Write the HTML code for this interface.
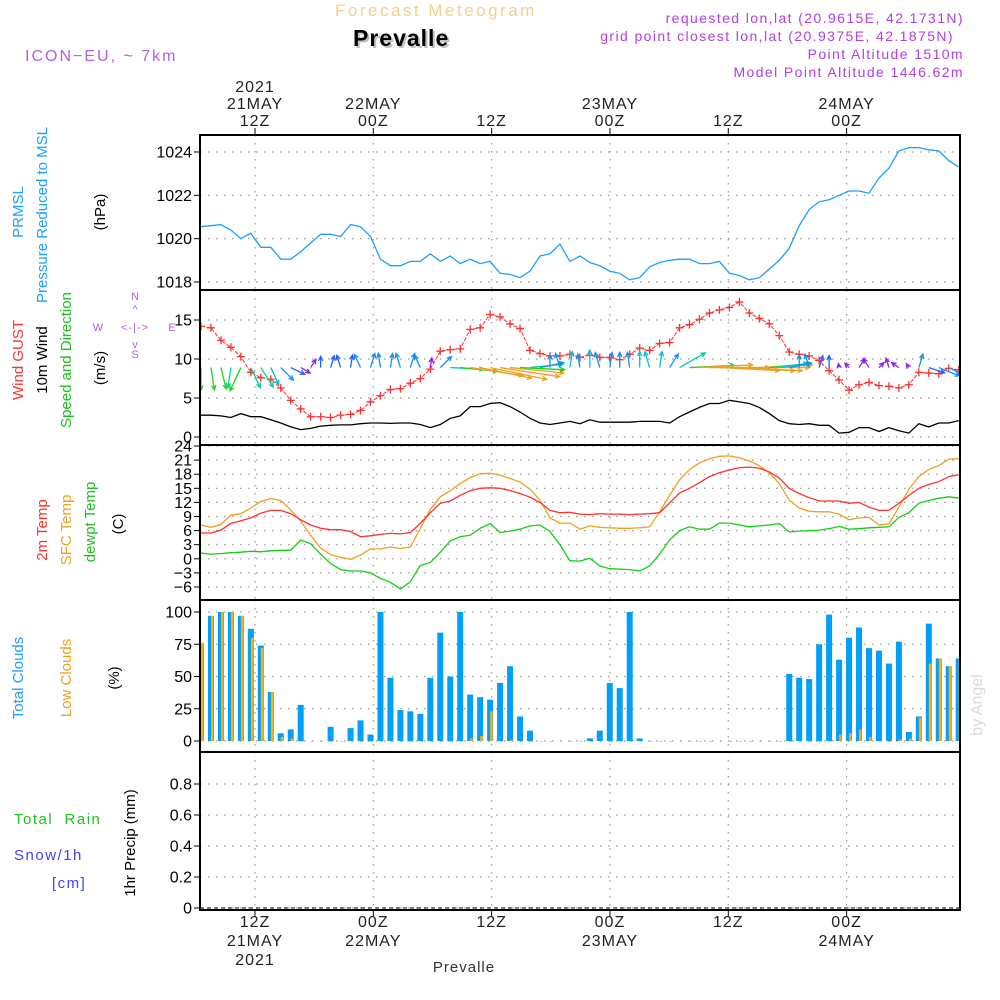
<!DOCTYPE html>
<html><head><meta charset="utf-8">
<style>
html,body{margin:0;padding:0;background:#fff;}
svg{display:block;}
text{font-family:"Liberation Sans",sans-serif;}
</style></head>
<body>
<svg id="chart" width="1000" height="1000" viewBox="0 0 1000 1000" xmlns="http://www.w3.org/2000/svg">
<defs><clipPath id="plotclip"><rect x="201" y="130" width="758" height="790"/></clipPath></defs>
<g id="header">
<text x="335" y="16" font-size="17" fill="#f5d08a" letter-spacing="2.5">Forecast Meteogram</text>
<text x="355" y="48" font-size="23" font-weight="bold" font-family="Liberation Serif" fill="#b8c8b8" letter-spacing="1">Prevalle</text>
<text x="353" y="46" font-size="23" font-weight="bold" font-family="Liberation Serif" fill="#000" letter-spacing="1">Prevalle</text>
<text x="25" y="61" font-size="16" fill="#b060e0" letter-spacing="2">ICON−EU, ~ 7km</text>
<g font-size="14" fill="#b040e0" text-anchor="end" letter-spacing="1.4">
<text x="964" y="23">requested lon,lat (20.9615E, 42.1731N)</text>
<text x="954" y="41">grid point closest lon,lat (20.9375E, 42.1875N)</text>
<text x="964" y="59">Point Altitude 1510m</text>
<text x="964" y="77">Model Point Altitude 1446.62m</text>
</g>
</g>
<g id="labels" font-size="15">
<text transform="translate(23,212) rotate(-90)" text-anchor="middle" fill="#1aa0ff">PRMSL</text>
<text transform="translate(47,215) rotate(-90)" text-anchor="middle" fill="#1aa0ff">Pressure Reduced to MSL</text>
<text transform="translate(105,212) rotate(-90)" text-anchor="middle" fill="#000">(hPa)</text>
<text transform="translate(23,360) rotate(-90)" text-anchor="middle" fill="#ff3030">Wind GUST</text>
<text transform="translate(47,360) rotate(-90)" text-anchor="middle" fill="#000">10m Wind</text>
<text transform="translate(71,360) rotate(-90)" text-anchor="middle" fill="#20c020">Speed and Direction</text>
<text transform="translate(105,368) rotate(-90)" text-anchor="middle" fill="#000">(m/s)</text>
<g fill="#b060e0" font-size="11">
<text x="135" y="300" text-anchor="middle">N</text>
<text x="135" y="358" text-anchor="middle">S</text>
<text x="98" y="331" text-anchor="middle">W</text>
<text x="172" y="331" text-anchor="middle">E</text>
<text x="135" y="331" text-anchor="middle" letter-spacing="1">&lt;-|-&gt;</text>
<text x="135" y="313" text-anchor="middle">^</text>
<text x="135" y="348" text-anchor="middle">v</text>
</g>
<text transform="translate(47,530) rotate(-90)" text-anchor="middle" fill="#ff3030">2m Temp</text>
<text transform="translate(71,530) rotate(-90)" text-anchor="middle" fill="#f0a020">SFC Temp</text>
<text transform="translate(95,522) rotate(-90)" text-anchor="middle" fill="#20c020">dewpt Temp</text>
<text transform="translate(123,524) rotate(-90)" text-anchor="middle" fill="#000">(C)</text>
<text transform="translate(23,678) rotate(-90)" text-anchor="middle" fill="#1aa0ff">Total Clouds</text>
<text transform="translate(71,678) rotate(-90)" text-anchor="middle" fill="#f0a020">Low Clouds</text>
<text transform="translate(119,678) rotate(-90)" text-anchor="middle" fill="#000">(%)</text>
<text x="14" y="824" fill="#20c020" letter-spacing="1.5">Total&#160;&#160;Rain</text>
<text x="14" y="860" fill="#4040ff" letter-spacing="1.5">Snow/1h</text>
<text x="52" y="888" fill="#4040ff" letter-spacing="1.5">[cm]</text>
<text transform="translate(135,843) rotate(-90)" text-anchor="middle" fill="#000">1hr Precip (mm)</text>
<text transform="translate(982,705) rotate(-90)" text-anchor="middle" fill="#d8dcd8" font-family="Liberation Serif" font-size="16">by Angel</text>
<text x="464" y="972" text-anchor="middle" font-family="Liberation Serif" font-size="15" fill="#333" letter-spacing="1">Prevalle</text>
</g>
<g id="grid"></g>
<g id="marks" clip-path="url(#plotclip)"></g>
<g id="frames"></g>
<g id="axes"></g>
</svg>
<script>
const pressure=[1020.55,1020.6,1020.65,1020.4,1020.0,1020.25,1019.6,1019.6,1019.05,1019.05,1019.4,1019.8,1020.2,1020.2,1020.1,1020.65,1020.55,1020.1,1019.05,1018.75,1018.75,1018.95,1018.95,1019.3,1018.95,1019.2,1018.85,1019.05,1018.85,1018.95,1018.4,1018.35,1018.2,1018.5,1019.2,1019.3,1019.75,1018.95,1019.2,1018.9,1018.75,1018.5,1018.4,1018.1,1018.2,1018.7,1018.9,1019.0,1019.05,1019.05,1018.85,1018.85,1018.95,1018.4,1018.3,1018.1,1018.2,1018.6,1019.0,1019.55,1020.6,1021.35,1021.7,1021.8,1022.0,1022.2,1022.2,1022.1,1022.8,1023.25,1024.05,1024.2,1024.2,1024.1,1024.05,1023.6,1023.3];
const windSpeed=[2.8,2.8,2.7,2.5,3.0,2.6,2.6,2.2,1.8,1.3,0.95,1.1,1.4,1.5,1.55,1.55,1.7,1.8,1.8,1.75,1.8,1.8,1.6,1.2,1.6,2.4,2.7,3.9,3.9,4.3,4.4,3.9,3.2,2.4,1.8,1.6,1.8,2.0,1.7,2.2,1.9,1.9,1.9,1.9,2.0,2.0,2.0,1.8,2.6,3.2,3.8,4.3,4.3,4.7,4.5,4.3,3.8,3.0,2.1,1.7,1.6,1.7,1.5,1.5,0.5,0.6,1.2,1.2,0.7,1.2,0.8,0.5,1.7,1.3,1.8,1.8,2.1];
const windDir=[180,175,172,185,195,165,160,165,150,130,135,20,0,10,350,5,345,10,355,5,350,10,345,5,30,95,100,105,110,110,105,100,95,80,70,0,350,5,355,0,350,5,0,355,0,350,5,20,45,85,85,90,95,95,95,90,85,80,75,70,0,350,10,0,355,330,20,340,30,350,320,340,10,120,125,130,125];
const gust=[14.2,14.0,12.4,11.5,10.3,8.3,7.6,7.4,6.3,4.7,3.6,2.6,2.6,2.5,2.8,2.9,3.4,4.5,5.3,6.1,6.2,6.9,7.5,8.7,11.0,11.2,11.3,13.8,14.0,15.7,15.4,14.5,13.9,11.1,10.7,10.4,10.4,10.6,10.2,10.5,10.2,10.2,9.9,10.6,11.4,11.1,12.0,12.1,14.0,14.4,15.1,15.9,16.3,16.6,17.3,15.9,15.2,14.5,13.0,10.9,10.6,10.4,9.8,8.5,7.3,6.0,6.7,7.0,6.6,6.5,6.3,6.7,8.3,8.2,8.1,8.8,8.6];
const temp2m=[5.5,5.5,6.1,7.5,8.1,8.7,9.7,10.3,10.3,9.6,8.3,7.2,6.5,6.2,6.2,5.8,4.7,4.9,5.2,5.4,5.3,5.6,7.5,9.8,11.8,12.3,13.5,14.5,15.0,15.1,15.0,14.5,13.9,13.1,12.0,10.3,9.8,9.9,9.5,9.4,9.6,9.5,9.5,9.4,9.5,9.6,9.8,11.9,14.0,15.0,16.2,17.5,18.3,18.9,19.4,19.5,19.3,18.5,17.2,15.0,13.9,13.0,12.3,12.3,12.3,11.8,12.0,11.0,10.3,10.3,11.8,13.5,15.0,15.8,16.4,17.5,17.9];
const tempSfc=[7.2,6.7,7.3,9.3,9.6,10.8,12.2,12.8,12.4,10.4,8.0,5.0,2.3,0.9,0.3,-0.1,0.8,2.1,2.1,2.5,2.2,2.5,6.5,10.5,13.2,14.5,16.0,17.3,18.1,18.2,17.8,17.1,16.3,14.8,12.5,8.7,7.6,7.6,6.3,7.0,6.7,6.6,6.5,6.5,6.6,6.8,10.0,13.5,16.8,19.0,20.4,21.3,21.8,21.9,21.5,20.8,19.8,18.3,16.0,12.5,10.8,10.1,10.0,10.0,9.5,8.3,8.7,8.8,7.2,7.4,11.0,14.8,17.5,19.0,19.8,21.2,21.3];
const dewpt=[1.2,1.0,1.1,1.3,1.4,1.6,1.5,1.7,1.8,1.8,4.0,3.2,1.0,-1.0,-2.3,-2.6,-2.6,-3.0,-4.2,-5.0,-6.4,-4.9,-1.4,-0.8,1.4,3.8,4.7,5.0,6.5,7.5,5.6,5.9,6.3,7.0,7.2,5.8,3.0,-0.4,-0.5,0.1,-1.5,-2.1,-2.2,-2.3,-2.6,-1.5,1.0,4.0,6.0,6.8,6.3,6.3,7.6,7.6,7.2,6.8,7.0,7.2,7.5,5.7,5.9,6.0,6.1,6.4,6.9,6.3,6.4,6.6,6.7,6.8,8.8,9.8,11.8,12.4,12.9,13.2,12.9];
const totalClouds=[76,97,100,100,97,87,74,38,6,9,28,0,0,11,0,10,16,5,100,49,24,23,21,49,84,50,100,36,34,32,45,58,19,8,0,0,0,0,0,2,8,45,41,100,2,0,0,0,0,0,0,0,0,0,0,0,0,0,0,52,49,48,75,98,63,80,88,72,70,60,77,7,19,91,64,58,64];
const lowClouds=[76,97,100,100,97,80,72,38,3,2,0,0,0,0,0,0,0,0,0,0,0,0,0,0,0,0,0,2,4,23,0,1,0,0,0,0,0,0,0,0,0,0,0,0,0,0,0,0,0,0,0,0,0,0,0,0,0,0,0,0,0,0,0,0,5,6,9,3,0,0,1,2,18,60,64,58,64];
const precip=new Array(77).fill(0);
const pressTicks=[1018,1020,1022,1024];
const windTicks=[0,5,10,15];
const tempTicks=[-6,-3,0,3,6,9,12,15,18,21,24];
const cloudTicks=[0,25,50,75,100];
const precipTicks=[0,0.2,0.4,0.6,0.8];
const precipTickLabels=["0","0.2","0.4","0.6","0.8"];
const gridHours=[12,24,36,48,60,72];
const topLabels=[["2021","21MAY","12Z"],["","22MAY","00Z"],["","","12Z"],["","23MAY","00Z"],["","","12Z"],["","24MAY","00Z"]];
const botLabels=[["12Z","21MAY","2021"],["00Z","22MAY",""],["12Z","",""],["00Z","23MAY",""],["12Z","",""],["00Z","24MAY",""]];

const NS="http://www.w3.org/2000/svg";
const X0=200,X1=960;
function xh(h){return 255+(h-12)*9.86;}
function xi(i){return 201+i*9.97;}
function yP(v){return 282-(v-1018)*21.67;}
function yW(v){return 437-v*7.8;}
function yT(v){return 446+(24-v)*4.7;}
function yC(v){return 741-v*1.29;}
function yR(v){return 908-v*155;}
const panels=[[135,290],[290,445],[445,600],[600,752],[752,910]];
function mk(tag,attrs,parent){const e=document.createElementNS(NS,tag);for(const k in attrs)e.setAttribute(k,attrs[k]);parent.appendChild(e);return e;}
const grid=document.getElementById('grid'),marks=document.getElementById('marks'),frames=document.getElementById('frames'),axes=document.getElementById('axes');
const dot={stroke:"#999","stroke-width":1.2,"stroke-dasharray":"1.5,6.5"};
gridHours.forEach(h=>{panels.forEach(p=>{const l=mk('line',Object.assign({x1:xh(h),x2:xh(h),y1:p[0],y2:p[1]},dot),grid);

});});
function hgrid(ticks,yf,labels,name){ticks.forEach((t,k)=>{const y=yf(t);
const l=mk('line',Object.assign({x1:X0,x2:X1,y1:y,y2:y},dot),grid);


mk('line',{x1:X0-6,x2:X0,y1:y,y2:y,stroke:"#000","stroke-width":1},axes);
const tx=mk('text',{x:X0-8,y:y+5.5,"text-anchor":"end","font-size":16,fill:"#000"},axes);tx.textContent=labels?labels[k]:String(t);

});}
hgrid(pressTicks,yP,null,'pressure');
hgrid(windTicks,yW,null,'wind');
hgrid(tempTicks,yT,tempTicks.map(t=>t<0?"−"+(-t):String(t)),'temp');
hgrid(cloudTicks,yC,null,'cloud');
hgrid(precipTicks,yR,precipTickLabels,'precip');
panels.forEach(p=>{const r=mk('rect',{x:X0,y:p[0],width:X1-X0,height:p[1]-p[0],fill:"none",stroke:"#000","stroke-width":2},frames);

});
gridHours.forEach((h,k)=>{const x=xh(h);
mk('line',{x1:x,x2:x,y1:128,y2:135,stroke:"#000"},axes);mk('line',{x1:x,x2:x,y1:910,y2:917,stroke:"#000"},axes);
topLabels[k].forEach((s,j)=>{if(!s)return;const t=mk('text',{x:x,y:92+j*17,"text-anchor":"middle","font-size":16,fill:"#222","letter-spacing":1},axes);t.textContent=s;

});
botLabels[k].forEach((s,j)=>{if(!s)return;const t=mk('text',{x:x,y:927+j*19,"text-anchor":"middle","font-size":16,fill:"#222","letter-spacing":1},axes);t.textContent=s;

});});
function line(arr,yf,color,name,w){const pts=arr.map((v,i)=>xi(i).toFixed(1)+","+yf(v).toFixed(1)).join(" ");
const p=mk('polyline',{points:pts,fill:"none",stroke:color,"stroke-width":w||1.3},marks);

return p;}
line(pressure,yP,"#1aa0ff","pressure-line");
line(windSpeed,yW,"#000","wind-speed-line");
const g=line(gust,yW,"#ff3030","gust-line",1);g.setAttribute('stroke-dasharray','4,1.5');
gust.forEach((v,i)=>{const x=xi(i),y=yW(v);
const m=mk('path',{d:`M${x-4},${y}H${x+4}M${x},${y-4}V${y+4}`,stroke:"#ff3030","stroke-width":1.3},marks);

});
function wcol(s){if(s<1.3)return"#9020e0";if(s<1.6)return"#2060ff";if(s<2.0)return"#1090f0";if(s<2.4)return"#00c0e0";if(s<2.7)return"#00d0a0";if(s<3.4)return"#20d020";if(s<3.8)return"#a0d000";return"#f0a020";}
windDir.forEach((d,i)=>{const s=windSpeed[i],r=d*Math.PI/180;const x0=xi(i),y0=yW(8.9);
const x1=x0+Math.sin(r)*s*14,y1=y0-Math.cos(r)*s*8;const a=Math.atan2(y1-y0,x1-x0);
const h1x=x1-5*Math.cos(a-0.45),h1y=y1-5*Math.sin(a-0.45),h2x=x1-5*Math.cos(a+0.45),h2y=y1-5*Math.sin(a+0.45);
const ar=mk('path',{d:`M${x0},${y0}L${x1},${y1}M${h1x},${h1y}L${x1},${y1}L${h2x},${h2y}`,stroke:wcol(s),"stroke-width":1.3,fill:"none"},marks);

});
line(tempSfc,yT,"#f0a020","sfc-temp-line");
line(temp2m,yT,"#ff3030","temp-2m-line");
line(dewpt,yT,"#10d010","dewpt-line");
totalClouds.forEach((v,i)=>{const x=xi(i);
const b=mk('rect',{x:x-3,y:yC(v),width:6,height:yC(0)-yC(v),fill:"#00a0f8"},marks);


const lv=lowClouds[i];const o=mk('rect',{x:x,y:yC(lv),width:2.5,height:Math.max(0.8,yC(0)-yC(lv)),fill:"#f0b020"},marks);

});
precip.forEach((v,i)=>{if(v<=0)return;const x=xi(i);
const b=mk('rect',{x:x-3,y:yR(v),width:6,height:yR(0)-yR(v),fill:"#20c020"},marks);

});
const z=mk('line',{x1:X0,x2:X1,y1:yR(0),y2:yR(0),stroke:"#000","stroke-width":1,"stroke-dasharray":"4,3"},marks);


</script>
</body></html>
